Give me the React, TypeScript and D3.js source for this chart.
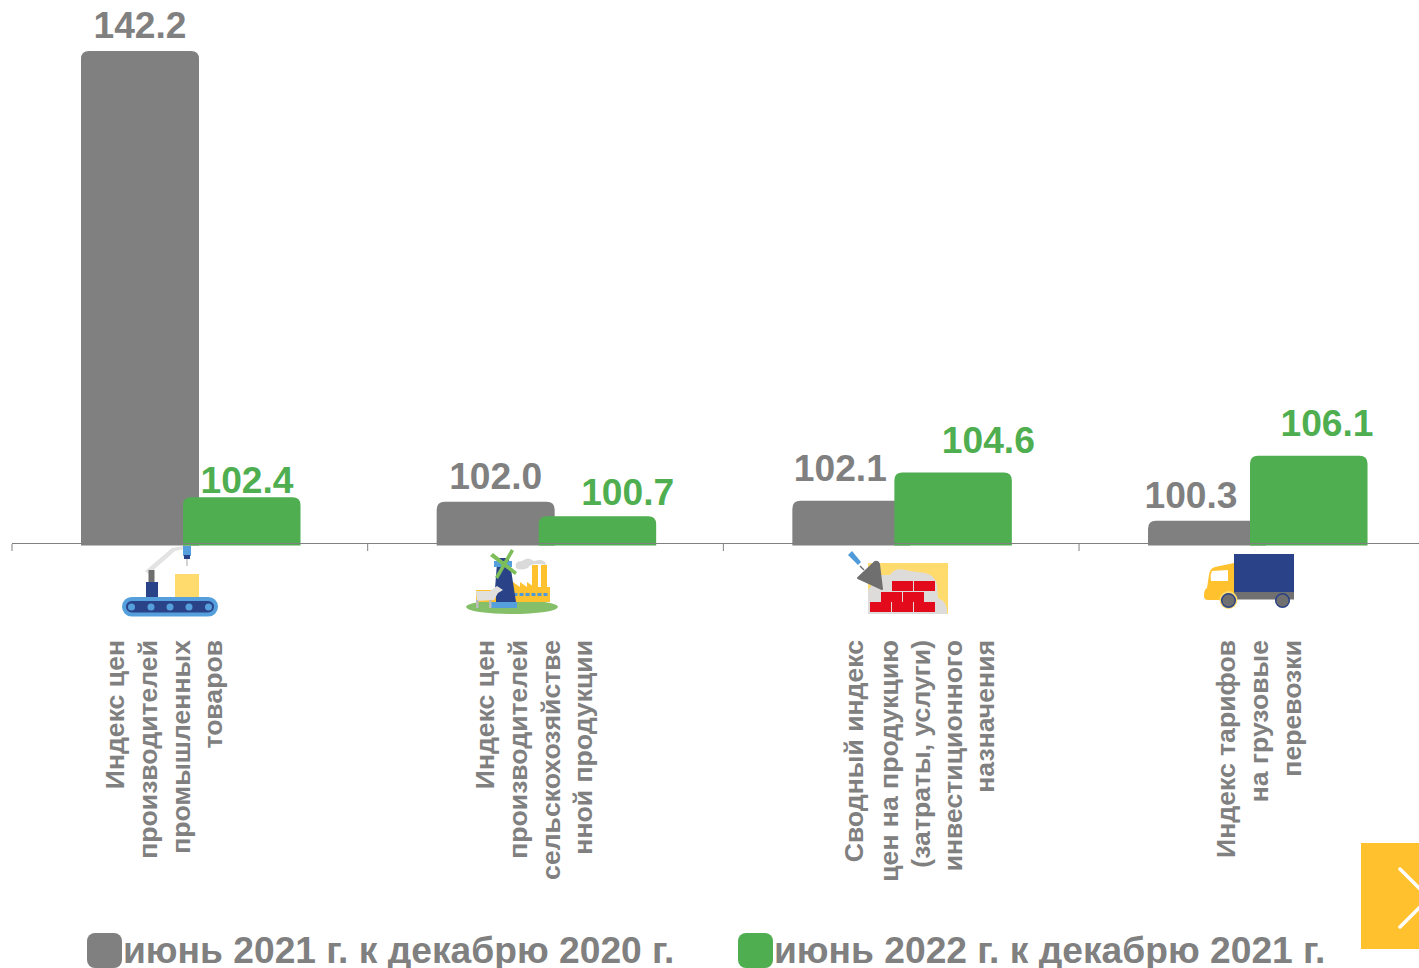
import React from "react";
import * as d3 from "d3";

const categories = ["prom", "agro", "build", "freight"];
const series2021 = [142.2, 102.0, 102.1, 100.3];
const series2022 = [102.4, 100.7, 104.6, 106.1];
const legendLabels = ["июнь 2021 г. к декабрю 2020 г.", "июнь 2022 г. к декабрю 2021 г."];
const categoryLines = [
  ["Индекс цен", "производителей", "промышленных", "товаров"],
  ["Индекс цен", "производителей", "сельскохозяйстве", "нной продукции"],
  ["Сводный индекс", "цен на продукцию", "(затраты, услуги)", "инвестиционного", "назначения"],
  ["Индекс тарифов", "на грузовые", "перевозки"],
];
const lineXs = [
  [116, 149, 182, 214],
  [486, 519, 552, 584],
  [855, 890, 922, 954, 986],
  [1227, 1260, 1293],
];
const labelShift2021 = [0, 0, -11, -16];
const labelShift2022 = [5, 30, 35, 18];
const labelLift2021 = [13, 13, 20, 13];
const labelLift2022 = [4, 11, 20, 20];

const GREY = "#808080";
const GREEN = "#4FAE50";
const FONT = "'Liberation Sans', Arial, sans-serif";

const x = d3.scaleBand<string>().domain(categories).range([12, 1434.7]);
const y = d3.scaleLinear().domain([98.1, 142.2]).range([545.5, 51]);
const BAR_W = 118;
const GREEN_W = 117.5;
const GREY_OFF = 69;
const GREEN_OFF = 171;

function topRounded(x0: number, w: number, top: number, bottom: number, r: number) {
  const p = d3.path();
  p.moveTo(x0, bottom);
  p.lineTo(x0, top + r);
  p.quadraticCurveTo(x0, top, x0 + r, top);
  p.lineTo(x0 + w - r, top);
  p.quadraticCurveTo(x0 + w, top, x0 + w, top + r);
  p.lineTo(x0 + w, bottom);
  p.closePath();
  return p.toString();
}

function IconConveyor() {
  return (
    <g>
      <path d="M145 571 L172 548 L184 546 L184 549 L175 551 L149 574 Z" fill="#E3E3E3" />
      <rect x="148.500" y="570" width="6" height="13" fill="#6F6F6F" />
      <rect x="146" y="582" width="12" height="16" fill="#2A4288" />
      <rect x="183" y="546" width="8" height="10" fill="#55A0DC" />
      <rect x="184" y="555" width="6" height="4" fill="#2A4288" />
      <rect x="186.500" y="559" width="1" height="7" fill="#AAAAAA" />
      <rect x="175" y="574" width="24" height="24" fill="#FFDB6E" />
      <rect x="122" y="597" width="96" height="19.500" rx="9.700" fill="#55A0DC" />
      <rect x="126" y="601" width="88" height="11.500" rx="5.700" fill="#2A4288" />
      {[131.500, 151, 170, 189, 208.500].map((cx) => (
        <circle key={cx} cx={cx} cy={607} r={3.500} fill="#55A0DC" />
      ))}
    </g>
  );
}

function IconFarm() {
  return (
    <g>
      <ellipse cx="512" cy="607" rx="46" ry="7" fill="#86BF69" />
      <path d="M513 593 L513 582 L520 587 L520 582 L527 587 L527 582 L534 587 L550 587 L550 602 L513 602 Z" fill="#FFC12D" />
      <rect x="532" y="565" width="6" height="24" fill="#FFC12D" />
      <rect x="541" y="565" width="6" height="24" fill="#FFC12D" />
      {[515, 521, 527, 533, 539, 545].map((v) => (
        <rect key={v} x={v - 1.500} y={593} width={4} height={3} fill="#4F9BD9" />
      ))}
      <path d="M516 568 Q514 561 522 561 Q528 556 534 561 Q545 558 546 565 Q530 562 528 568 Q520 571 516 568 Z" fill="#DADADA" />
      <path d="M497 563 L510 563 L516 602 L494 602 Z" fill="#2A4288" />
      <path d="M499 558 L508 558 L511 565 L495 565 Z" fill="#2A4288" />
      <rect x="494" y="561" width="18" height="6" fill="#55A0DC" />
      <rect x="491" y="602" width="26" height="6" fill="#55A0DC" />
      <path d="M490 556 L493 553 L517 572 L515 575 Z" fill="#7DBE5B" />
      <path d="M511 549 L514 551 L498 579 L495 577 Z" fill="#7DBE5B" />
      <rect x="476" y="590" width="20" height="12" fill="#FFC12D" />
      <path d="M476 591 L490 591 L497 586 L503 590 L498 593 L494 600 L477 601 Z" fill="#E2E0DC" />
      <rect x="476" y="600" width="2.500" height="8" fill="#BBBBBB" />
      <rect x="489" y="600" width="2.500" height="8" fill="#BBBBBB" />
    </g>
  );
}

function IconBricks() {
  const rows = [
    { y: 581, xs: [892, 914] },
    { y: 592, xs: [881, 903] },
    { y: 602, xs: [870, 892, 914] },
  ];
  return (
    <g>
      <rect x="868" y="563" width="80" height="51" fill="#FFDB6E" />
      <path d="M868 590 L880 575 L890 575 Q895 566 910 571 L925 573 Q935 575 937 585 L938 598 Q948 602 947 614 L868 614 Z" fill="#DEDCDA" />
      <path d="M848 555 L852 551 L861 562 L858 565 Z" fill="#4F9BD9" />
      <path d="M860 566 L864 570" stroke="#6F6F6F" strokeWidth={1.500} />
      <path d="M858 578 L875 562 Q878 561 879 564 L882 589 Z" fill="#6F6F6F" stroke="#6F6F6F" strokeWidth="2" strokeLinejoin="round" />
      {rows.flatMap((r) =>
        r.xs.map((bx) => <rect key={`${r.y}-${bx}`} x={bx} y={r.y} width={21} height={10} fill="#E30A1C" />)
      )}
    </g>
  );
}

function IconTruck() {
  return (
    <g>
      <path d="M1234 563 L1215 567 Q1210 568 1209 575 L1207 588 Q1204 589 1204 596 Q1204 600 1208 600 L1234 600 Z" fill="#FFC12D" />
      <path d="M1212 571 L1228 570 L1228 581 L1211 581 Q1210 575 1212 571 Z" fill="#FFFFFF" />
      <rect x="1234" y="554" width="60" height="38" fill="#2A4288" />
      <rect x="1234" y="592" width="60" height="7.500" fill="#707070" />
      <circle cx="1228.500" cy="600" r="9" fill="#FFDB6E" />
      <circle cx="1228.500" cy="600.500" r="6.800" fill="#707070" stroke="#2A4288" strokeWidth="1.500" />
      <circle cx="1282.500" cy="600.500" r="6.800" fill="#707070" stroke="#2A4288" strokeWidth="1.500" />
    </g>
  );
}

export default function App() {
  const ticks = categories.map((c) => x(c) as number);
  const labelStyle = { fontFamily: FONT, fontWeight: 700, fontSize: 37.2 } as const;
  return (
    <svg
      width={1419}
      height={968}
      viewBox="0 0 1419 968"
      style={{ position: "absolute", left: 0, top: 0, display: "block", background: "#fff" }}
    >
      {categories.map((c, i) => {
        const x0 = x(c) as number;
        return (
          <g key={c}>
            <path d={topRounded(x0 + GREY_OFF, BAR_W, y(series2021[i]), y.range()[0], 8)} fill={GREY} />
            <path d={topRounded(x0 + GREEN_OFF, GREEN_W, y(series2022[i]), y.range()[0], 8)} fill={GREEN} />
            <text
              x={x0 + GREY_OFF + BAR_W / 2 + labelShift2021[i]}
              y={y(series2021[i]) - labelLift2021[i]}
              textAnchor="middle"
              fill={GREY}
              style={labelStyle}
            >
              {series2021[i].toFixed(1)}
            </text>
            <text
              x={x0 + GREEN_OFF + BAR_W / 2 + labelShift2022[i]}
              y={y(series2022[i]) - labelLift2022[i]}
              textAnchor="middle"
              fill={GREEN}
              style={labelStyle}
            >
              {series2022[i].toFixed(1)}
            </text>
          </g>
        );
      })}

      <line x1={12} x2={1419} y1={543.5} y2={543.5} stroke="#808080" strokeWidth={1.200} />
      {ticks.map((t) => (
        <line key={t} x1={t} x2={t} y1={544} y2={551} stroke="#808080" strokeWidth={1} />
      ))}

      <IconConveyor />
      <IconFarm />
      <IconBricks />
      <IconTruck />

      {categoryLines.map((lines, i) =>
        lines.map((line, j) => (
          <text
            key={`${i}-${j}`}
            transform={`translate(${lineXs[i][j] + 7.5},640) rotate(-90)`}
            textAnchor="end"
            fill={GREY}
            style={{ fontFamily: FONT, fontSize: 26.6, fontWeight: 700 }}
          >
            {line}
          </text>
        ))
      )}

      <rect x={87} y={933} width={35} height={35} rx={8} fill={GREY} />
      <text x={123} y={963} fill={GREY} style={labelStyle}>{legendLabels[0]}</text>
      <rect x={738} y={933} width={35} height={35} rx={8} fill={GREEN} />
      <text x={774} y={963} fill={GREY} style={labelStyle}>{legendLabels[1]}</text>

      <rect x={1361} y={843} width={58} height={106} fill="#FFC12D" />
      <path
        d="M1400 869 L1429 898 L1400 927"
        fill="none"
        stroke="#fff"
        strokeWidth={3.500}
        strokeLinecap="round"
      />
    </svg>
  );
}
